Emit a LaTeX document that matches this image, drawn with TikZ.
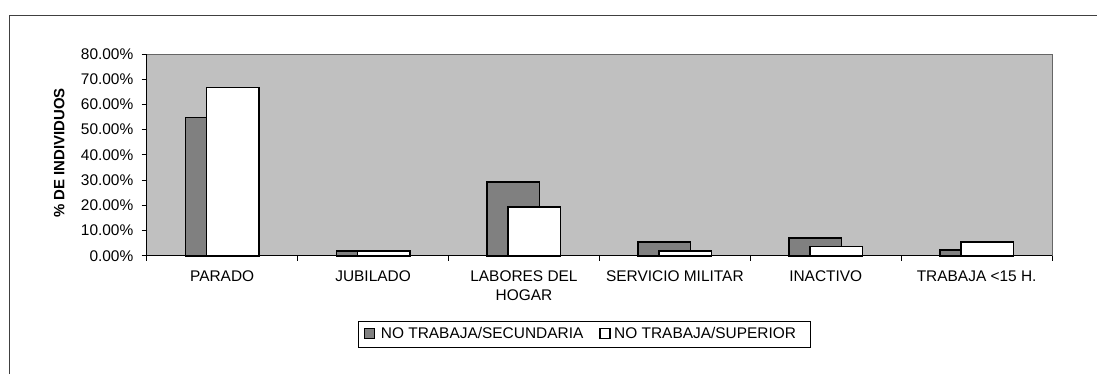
\documentclass[tikz,border=0pt]{standalone}
\usepackage{fontspec}
\setmainfont{Liberation Sans}
\definecolor{plotgray}{HTML}{C0C0C0}
\definecolor{bardark}{HTML}{808080}
\begin{document}
\begin{tikzpicture}[x=1bp,y=-1bp,
  lab/.style={font=\fontsize{15.5}{19}\selectfont, inner sep=0pt},
  barA/.style={fill=bardark, draw=black, line width=1.6bp},
  barB/.style={fill=white, draw=black, line width=1.6bp},
  axisline/.style={draw=black, line width=0.9bp}]
\useasboundingbox (0,0) rectangle (1097,374);
% outer chart frame (cropped)
\draw[line width=1bp, black!75] (9,374) -- (9,15) -- (1097,15);
% plot area
\fill[plotgray] (146.7,54) rectangle (1052,255.7);
\draw[black!60, line width=0.8bp] (146.7,54) -- (1052,54) -- (1052,255.7);
% bars: index / dark value / white value
\foreach \i/\a/\b in {0/54.8/66.7, 1/1.9/1.9, 2/29.3/19.4, 3/5.4/1.9, 4/7.1/3.6, 5/2.3/5.4}{
  \pgfmathsetmacro{\c}{146.7+150.9*(\i+0.5)}
  \pgfmathsetmacro{\ya}{255.7-\a*2.5214}
  \pgfmathsetmacro{\yb}{255.7-\b*2.5214}
  \draw[barA] (\c-36.7,255.7) rectangle (\c+15.7,\ya);
  \draw[barB] (\c-15.7,255.7) rectangle (\c+36.7,\yb);
}
% axes
\draw[axisline] (146.7,54) -- (146.7,255.7) -- (1052,255.7);
\foreach \v/\t in {0/0.00,1/10.00,2/20.00,3/30.00,4/40.00,5/50.00,6/60.00,7/70.00,8/80.00}{
  \pgfmathsetmacro{\yy}{255.7-\v*25.214}
  \draw[axisline] (141.7,\yy) -- (146.7,\yy);
  \node[lab, anchor=east] (yl\v) at (133.5,\yy) {\t\%};
}
\foreach \k in {0,...,6}{
  \pgfmathsetmacro{\xx}{146.7+150.9*\k}
  \draw[axisline] (\xx,255.7) -- (\xx,260.5);
}
% axis title
\node[lab, font=\fontsize{15}{19}\selectfont\bfseries, rotate=90] (ytitle) at (59.3,153) {\% DE INDIVIDUOS};
% category labels
\node[lab, anchor=base] (c0) at (222.15,281.4) {PARADO};
\node[lab, anchor=base] (c1) at (373.05,281.4) {JUBILADO};
\node[lab, align=center] (c2) at (523.95,285.5) {LABORES DEL\\HOGAR};
\node[lab, anchor=base] (c3) at (674.85,281.4) {SERVICIO MILITAR};
\node[lab, anchor=base] (c4) at (825.75,281.4) {INACTIVO};
\node[lab, anchor=base] (c5) at (976.65,281.4) {TRABAJA <15 H.};
% legend
\draw[black, line width=0.8bp] (358.3,321) rectangle (810,347.3);
\draw[fill=bardark, draw=black, line width=1.5bp] (364.5,328.5) rectangle (374.5,338.5);
\node[lab, anchor=base west] (l1) at (380.7,338.7) {NO TRABAJA/SECUNDARIA};
\draw[fill=white, draw=black, line width=1.5bp] (599.8,328.5) rectangle (609.8,338.5);
\node[lab, anchor=base west] (l2) at (614,338.7) {NO TRABAJA/SUPERIOR};
\end{tikzpicture}
\end{document}
